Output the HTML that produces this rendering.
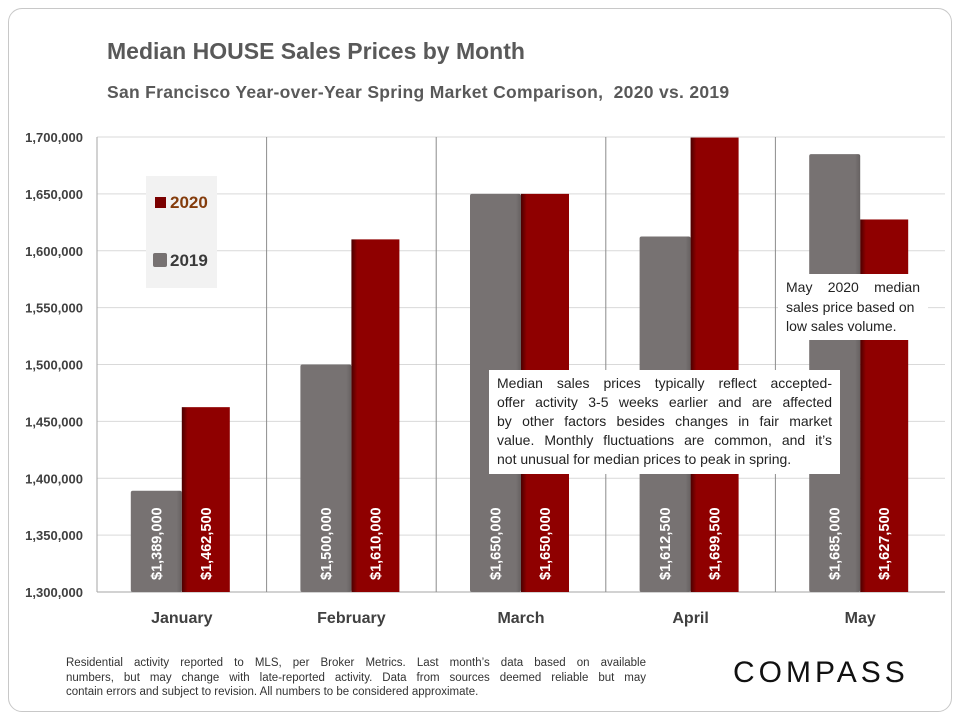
<!DOCTYPE html>
<html><head><meta charset="utf-8"><style>
body{margin:0;width:960px;height:720px;background:#fff;font-family:"Liberation Sans",sans-serif;overflow:hidden}
#frame{position:absolute;left:8px;top:8px;width:942px;height:702px;border:1px solid #c8c8c8;border-radius:14px}
.t{position:absolute;color:#595959;font-weight:bold;white-space:nowrap}
.box{position:absolute;background:#fff;color:#222;line-height:19px;padding:4px 8px}
.j{text-align:justify;text-align-last:justify;white-space:nowrap}
.l{white-space:nowrap}
</style></head><body>
<div id="frame"></div>
<div class="t" style="left:107px;top:38px;font-size:23px">Median HOUSE Sales Prices by Month</div>
<div class="t" style="left:107px;top:82px;font-size:17.5px;letter-spacing:0.3px">San Francisco Year-over-Year Spring Market Comparison,&nbsp; 2020 vs. 2019</div>
<svg id="chart" width="960" height="720" style="position:absolute;left:0;top:0">
<defs>
<linearGradient id="gr" x1="0" x2="1"><stop offset="0" stop-color="#4a0000"/><stop offset="0.12" stop-color="#8f0000"/><stop offset="1" stop-color="#8f0000"/></linearGradient>
<linearGradient id="gg" x1="0" x2="1"><stop offset="0" stop-color="#777272"/><stop offset="0.9" stop-color="#777272"/><stop offset="1" stop-color="#666161"/></linearGradient>
</defs>
</svg>
<div style="position:absolute;left:146px;top:176px;width:71px;height:112px;background:#f2f2f2"></div>
<div style="position:absolute;left:155px;top:193px;font-size:17px;font-weight:bold;color:#843c0c"><span style="display:inline-block;width:11px;height:11px;background:#7a0000;margin-right:4px"></span>2020</div>
<div style="position:absolute;left:153px;top:251px;font-size:17px;font-weight:bold;color:#3a3a3a"><span style="display:inline-block;width:14px;height:14px;background:#777272;border-radius:2px;margin-right:3px;vertical-align:-1px"></span>2019</div>
<div class="box" style="left:489px;top:370px;width:335px;height:96px;font-size:14px">
<div class="j">Median sales prices typically reflect accepted-</div>
<div class="j">offer activity 3-5 weeks earlier and are affected</div>
<div class="j">by other factors besides changes in fair market</div>
<div class="j">value. Monthly fluctuations are common, and it’s</div>
<div class="l">not unusual for median prices to peak in spring.</div></div>
<div class="box" style="left:778px;top:274px;width:134px;height:58px;line-height:19.5px;font-size:14px">
<div class="j">May 2020 median</div><div class="l">sales price based on</div><div class="l">low sales volume.</div></div>
<div style="position:absolute;left:66px;top:656px;width:580px;font-size:11.5px;line-height:14.5px;color:#333">
<div class="j">Residential activity reported to MLS, per Broker Metrics. Last month’s data based on available</div>
<div class="j">numbers, but may change with late-reported activity. Data from sources deemed reliable but may</div>
<div class="l">contain errors and subject to revision. All numbers to be considered approximate.</div></div>
<div style="position:absolute;left:733px;top:656px;font-size:30px;letter-spacing:4px;color:#111">COMPASS</div>
<script>
const months=["January","February","March","April","May"];
const v2019=[1389000,1500000,1650000,1612500,1685000];
const v2020=[1462500,1610000,1650000,1699500,1627500];
const yTicks=[1300000,1350000,1400000,1450000,1500000,1550000,1600000,1650000,1700000];
const svg=document.getElementById('chart');const NS="http://www.w3.org/2000/svg";
const L=97,R=945,T=137,B=592,yMin=1300000,yMax=1700000;
const y=v=>B-(v-yMin)/(yMax-yMin)*(B-T);
const bw=(R-L)/months.length;
const x=i=>L+bw*i;
function mk(t,a){const e=document.createElementNS(NS,t);for(const k in a)e.setAttribute(k,a[k]);svg.appendChild(e);return e;}
const fmt=v=>"$"+v.toLocaleString("en-US");
yTicks.forEach(t=>{const g=mk('line',{x1:L,x2:R,y1:y(t),y2:y(t),stroke:t===yMin?'#a6a6a6':'#d9d9d9','stroke-width':1});


const tx=mk('text',{x:L-14,y:y(t)+5,'text-anchor':'end','font-size':13,'font-weight':'bold',fill:'#404040','font-family':'Liberation Sans'});tx.textContent=t.toLocaleString("en-US");

});
mk('line',{x1:L,x2:L,y1:T,y2:B,stroke:'#a6a6a6'});
months.forEach((m,i)=>{
 if(i>0){const s=mk('line',{x1:x(i),x2:x(i),y1:T,y2:B,stroke:'#8c8c8c'});
 
 }
 const c=x(i)+bw/2;
 const g=mk('rect',{x:c-51,y:y(v2019[i]),width:51,height:B-y(v2019[i]),fill:'url(#gg)',rx:2});
 
 
 const r=mk('rect',{x:c,y:y(v2020[i]),width:48,height:B-y(v2020[i]),fill:'url(#gr)'});
 
 
 [[c-25.5,v2019[i]],[c+24,v2020[i]]].forEach(([cx,v])=>{
  const t=mk('text',{transform:`translate(${cx+5},580) rotate(-90)`,'font-size':14.5,'font-weight':'bold',fill:'#fff','font-family':'Liberation Sans'});t.textContent=fmt(v);
  
  });
 const lb=mk('text',{x:c,y:623,'text-anchor':'middle','font-size':16,'font-weight':'bold',fill:'#404040','font-family':'Liberation Sans'});lb.textContent=m;
 
 
});
</script>
</body></html>
